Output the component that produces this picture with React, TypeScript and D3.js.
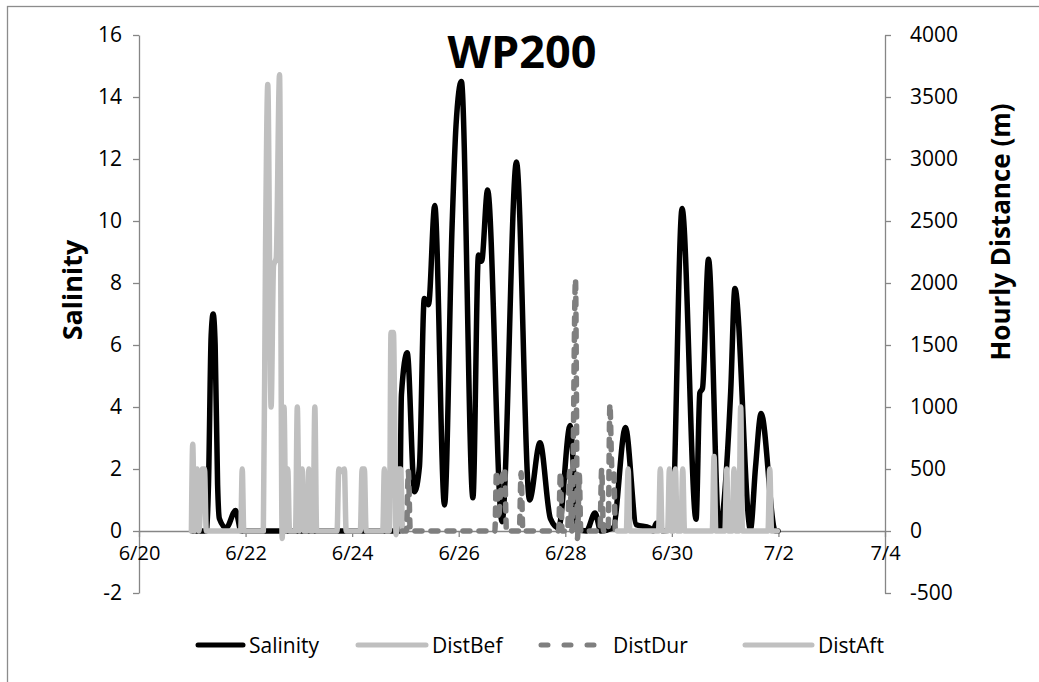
import React, { useEffect, useRef } from 'react';
import * as d3 from 'd3';

// time is expressed in hours since 6/20 00:00
const xTickHours = [0, 48, 96, 144, 192, 240, 288, 336];
const xTickLabels = ['6/20', '6/22', '6/24', '6/26', '6/28', '6/30', '7/2', '7/4'];
const salinityTicks = [-2, 0, 2, 4, 6, 8, 10, 12, 14, 16];
const distanceTicks = [-500, 0, 500, 1000, 1500, 2000, 2500, 3000, 3500, 4000];
const seriesNames = ['Salinity', 'DistBef', 'DistDur', 'DistAft'];

// [hour, salinity]
const salinity: [number, number][] = [
  [24, 0], [30.3, 0], [31.3, 1.5], [32.5, 6.3], [33.4, 7.0], [34.3, 6.0], [35.4, 1.5], [36.2, 0.4],
  [39.3, 0.1], [43.5, 0.66], [46, 0], [48, 0],
  [115, 0], [117.3, 0], [118.2, 4.4], [120.8, 5.75], [124.1, 1.27], [126.3, 2.07], [128.5, 7.5],
  [130.4, 7.3], [133.2, 10.5], [137.6, 0.84], [141.0, 9.8], [142.8, 13.1], [145.2, 14.5],
  [150.4, 1.07], [152.9, 8.9], [154.3, 8.7], [157.0, 11.0], [163.5, 0.3], [170.0, 11.9],
  [175.9, 1.0], [180.6, 2.85], [185.3, 0.4], [189.0, 0.1], [194.2, 3.4], [197.5, 0.05],
  [201.5, 0], [205.4, 0.58], [208, 0], [213.5, 0.1], [219.1, 3.34], [224.0, 0.2], [230.0, 0.1],
  [231.5, 0], [233.0, 0.25], [236.0, 0], [240.0, 0.1], [244.6, 10.4], [250.9, 0.38],
  [252.6, 4.46], [253.8, 4.6], [256.5, 8.77], [261.3, 0.05], [266.5, 4.5], [268.4, 7.82],
  [275.4, 0.05], [277.7, 2.07], [280.2, 3.79], [286.6, 0], [287.8, 0],
];

// [hour, metres]
const distBef: [number, number][] = [
  [23.6, 0], [24.2, 700], [25, 0], [26.2, 500], [27, 0], [28.5, 500], [29.5, 500], [30.3, 0],
  [45.8, 0], [46.5, 500], [47.2, 0],
  [56, 0], [57, 2300], [58, 3600], [59.5, 1000], [60.6, 2140], [61.8, 2200], [63.3, 3680],
  [64.5, -60], [65.3, 1000], [66.2, 0], [67, 500], [67.8, 0], [70.5, 0], [71.3, 1000], [72.2, 0],
  [73.5, 500], [74.3, 0], [75.7, 0], [76.5, 500], [77.3, 0], [78.4, 0], [79.2, 1000], [80, 0],
  [89.2, 0], [90, 500], [91.2, 480], [92.5, 500], [93.3, 0], [99.7, 0], [100.5, 500],
  [101.5, 500], [102.3, 0], [109.8, 0], [110.5, 500], [111.3, 0], [112.8, 0], [113.5, 1600],
  [114.6, 1600], [115.8, -30], [117, 500], [117.8, 500], [118.6, 0],
];

const distDur: [number, number][] = [
  [118.6, 0], [120.5, 0], [121.3, 480], [122.2, 0], [160.3, 0], [161, 480], [161.9, 100],
  [163, 350], [164.7, 500], [165.5, 0], [171.3, 0], [172.1, 470], [172.9, 0], [189, 0],
  [189.8, 470], [190.6, 0], [193, 0], [194, 480], [195, 0], [196.6, 2030], [197.5, -60],
  [198.3, 450], [199, 0], [207.6, 0], [208.4, 500], [209.2, 0], [211.3, 0], [212.1, 1020],
  [213, 500], [213.8, 480], [214.6, 0], [215.5, 0],
];

const distAft: [number, number][] = [
  [215.5, 0], [219.5, 0], [220.3, 500], [221.1, 0], [234, 0], [234.8, 500], [235.6, 0],
  [238.1, 0], [238.9, 500], [239.7, 0], [240.8, 0], [241.6, 500], [242.4, 0], [244.1, 0],
  [244.9, 500], [245.7, 0], [258.2, 0], [259, 600], [259.8, 0], [263.9, 0], [264.7, 500],
  [265.5, 0], [267.2, 0], [268, 500], [268.8, 0], [270.2, 0], [271, 1000], [271.8, 0],
  [283.3, 0], [284.1, 500], [284.9, 0], [287.5, 0],
];

const FONT = "'Open Sans', 'Noto Sans', sans-serif";
const AXIS_COLOR = '#868686';

export default function App() {
  const ref = useRef<SVGSVGElement>(null);

  useEffect(() => {
    const svg = d3.select(ref.current);
    svg.selectAll('*').remove();

    const L = 139, R = 885, T = 35, B = 593;
    const x = d3.scaleLinear().domain([0, 336]).range([L, R]);
    const yL = d3.scaleLinear().domain([-2, 16]).range([B, T]);
    const yR = d3.scaleLinear().domain([-500, 4000]).range([B, T]);

    svg.append('rect').attr('width', 1039).attr('height', 682).attr('fill', '#fff');
    svg.append('rect')
      .attr('x', 7.5).attr('y', 6.5).attr('width', 1200).attr('height', 900)
      .attr('fill', 'none').attr('stroke', '#8c8c8c').attr('stroke-width', 1.3);

    const styleAxis = (g: any, size: number) => {
      g.select('.domain').attr('stroke', AXIS_COLOR).attr('stroke-width', 1.3);
      g.selectAll('.tick line').attr('stroke', AXIS_COLOR).attr('stroke-width', 1.3);
      g.selectAll('.tick text').attr('fill', '#000').attr('font-size', size).attr('font-family', FONT);
    };
    const plain = (d: any) => String(d);

    // left axis
    const gl = svg.append('g').attr('transform', `translate(${L},0)`)
      .call(d3.axisLeft(yL).tickValues(salinityTicks).tickFormat(plain)
        .tickSize(6).tickSizeOuter(0).tickPadding(11));
    styleAxis(gl, 21);
    // right axis
    const gr = svg.append('g').attr('transform', `translate(${R},0)`)
      .call(d3.axisRight(yR).tickValues(distanceTicks).tickFormat(plain)
        .tickSize(6).tickSizeOuter(0).tickPadding(19));
    styleAxis(gr, 21);
    // bottom axis at zero
    const gx = svg.append('g').attr('transform', `translate(0,${yL(0)})`)
      .call(d3.axisBottom(x).tickValues(xTickHours)
        .tickFormat((d: any, i: number) => xTickLabels[i]).tickSize(6).tickSizeOuter(0).tickPadding(9));
    styleAxis(gx, 20);

    // series
    const salLine = d3.line<[number, number]>()
      .x(d => x(d[0])).y(d => yL(d[1])).curve(d3.curveMonotoneX);
    const distLine = d3.line<[number, number]>()
      .x(d => x(d[0])).y(d => yR(d[1])).curve(d3.curveMonotoneX);

    svg.append('path').datum(salinity).attr('d', salLine)
      .attr('fill', 'none').attr('stroke', '#000').attr('stroke-width', 5.5)
      .attr('stroke-linejoin', 'round').attr('stroke-linecap', 'round');
    svg.append('path').datum(distBef).attr('d', distLine)
      .attr('fill', 'none').attr('stroke', '#bfbfbf').attr('stroke-width', 5.5)
      .attr('stroke-linejoin', 'round').attr('stroke-linecap', 'round');
    svg.append('path').datum(distDur).attr('d', distLine)
      .attr('fill', 'none').attr('stroke', '#7f7f7f').attr('stroke-width', 5.5)
      .attr('stroke-dasharray', '7 9')
      .attr('stroke-linejoin', 'round').attr('stroke-linecap', 'round');
    svg.append('path').datum(distAft).attr('d', distLine)
      .attr('fill', 'none').attr('stroke', '#c0c0c0').attr('stroke-width', 5.5)
      .attr('stroke-linejoin', 'round').attr('stroke-linecap', 'round');

    // title
    svg.append('text').attr('x', 522).attr('y', 68).attr('text-anchor', 'middle')
      .attr('font-family', FONT).attr('font-weight', 'bold').attr('font-size', 45)
      .attr('fill', '#000').text('WP200');

    // axis titles
    svg.append('text').attr('transform', 'translate(71,290) rotate(-90)')
      .attr('text-anchor', 'middle').attr('dominant-baseline', 'central')
      .attr('font-family', FONT).attr('font-weight', 'bold').attr('font-size', 27)
      .attr('fill', '#000').text('Salinity');
    svg.append('text').attr('transform', 'translate(1000,232) rotate(-90)')
      .attr('text-anchor', 'middle').attr('dominant-baseline', 'central')
      .attr('font-family', FONT).attr('font-weight', 'bold').attr('font-size', 26)
      .attr('fill', '#000').text('Hourly Distance (m)');

    // legend
    const legendY = 645;
    const legendItems = [
      { name: seriesNames[0], x1: 198, x2: 243, color: '#000', dash: null, tx: 249 },
      { name: seriesNames[1], x1: 358, x2: 426, color: '#bfbfbf', dash: null, tx: 432 },
      { name: seriesNames[2], x1: 541, x2: 596, color: '#7f7f7f', dash: '7 16', tx: 613 },
      { name: seriesNames[3], x1: 745, x2: 812, color: '#c0c0c0', dash: null, tx: 818 },
    ];
    const lg = svg.append('g');
    legendItems.forEach(it => {
      const ln = lg.append('line').attr('x1', it.x1).attr('x2', it.x2)
        .attr('y1', legendY).attr('y2', legendY)
        .attr('stroke', it.color).attr('stroke-width', 5).attr('stroke-linecap', 'round');
      if (it.dash) ln.attr('stroke-dasharray', it.dash);
      lg.append('text').attr('x', it.tx).attr('y', legendY).attr('dominant-baseline', 'central')
        .attr('font-family', FONT).attr('font-size', 21).attr('fill', '#000').text(it.name);
    });
  }, []);

  return (
    <svg ref={ref} width={1039} height={682}
      style={{ position: 'absolute', left: 0, top: 0, display: 'block' }} />
  );
}
